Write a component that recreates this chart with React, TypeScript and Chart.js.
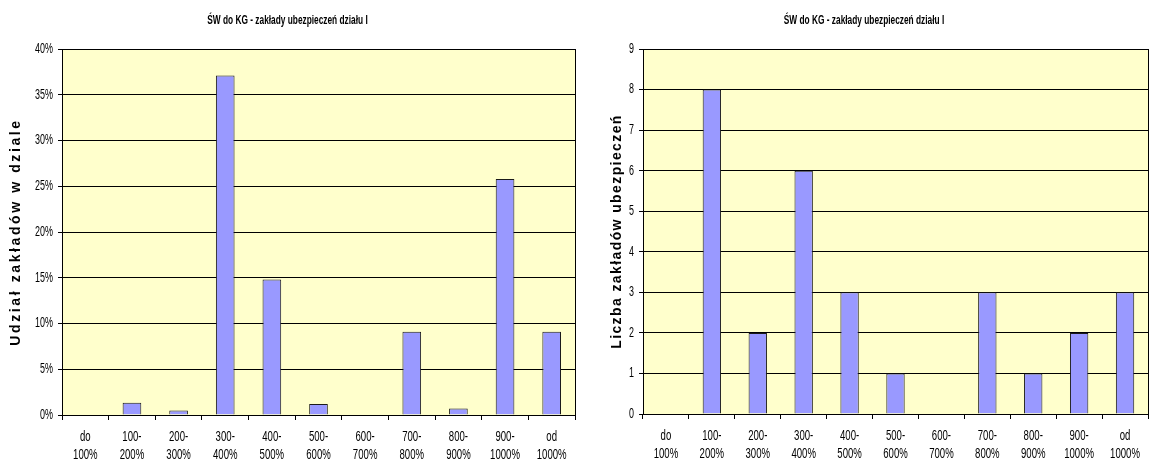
import React, { useEffect, useRef } from 'react';
import { Chart, registerables } from 'chart.js';

Chart.register(...registerables);

const categories: string[][] = [
  ['do', '100%'],
  ['100-', '200%'],
  ['200-', '300%'],
  ['300-', '400%'],
  ['400-', '500%'],
  ['500-', '600%'],
  ['600-', '700%'],
  ['700-', '800%'],
  ['800-', '900%'],
  ['900-', '1000%'],
  ['od', '1000%'],
];

const shareValues = [0, 1.35, 0.5, 37.1, 14.8, 1.2, 0, 9.1, 0.7, 25.8, 9.1];
const countValues = [0, 8, 2, 6, 3, 1, 0, 3, 1, 2, 3];

const shareTickMax = 40;
const shareTickStep = 5;
const countTickMax = 9;
const countTickStep = 1;

const chartTitle = 'ŚW do KG - zakłady ubezpieczeń działu I';
const shareAxisTitle = 'Udział zakładów w dziale';
const countAxisTitle = 'Liczba zakładów ubezpieczeń';

const SANS = "'Liberation Sans', Arial, sans-serif";
const SQUEEZE = 0.64;

type PanelProps = {
  width: number;
  height: number;
  plotLeft: number;
  plotRight: number;
  plotTop: number;
  plotBottom: number;
  values: number[];
  yMax: number;
  yStep: number;
  percent: boolean;
  axisTitle: string;
  axisTitleX: number;
  axisTitleSpacing: number;
};

function ChartPanel(p: PanelProps) {
  const ref = useRef<HTMLCanvasElement | null>(null);

  useEffect(() => {
    if (!ref.current) return;
    const ctx2d = ref.current.getContext('2d') as any;
    const origFillText = ctx2d.fillText.bind(ctx2d);
    ctx2d.fillText = (text: string, x: number, y: number, maxWidth?: number) => {
      ctx2d.save();
      ctx2d.translate(x, y);
      ctx2d.scale(SQUEEZE, 1);
      if (maxWidth === undefined) origFillText(text, 0, 0);
      else origFillText(text, 0, 0, maxWidth / SQUEEZE);
      ctx2d.restore();
    };

    const decor = {
      id: 'decor',
      beforeDraw(chart: any) {
        const { ctx, chartArea: a } = chart;
        ctx.save();
        ctx.fillStyle = '#FFFFCC';
        ctx.fillRect(a.left, a.top, a.right - a.left, a.bottom - a.top);
        ctx.restore();
      },
      beforeDatasetsDraw(chart: any) {
        const { ctx, chartArea: a } = chart;
        ctx.save();
        ctx.strokeStyle = '#000';
        ctx.lineWidth = 1;
        ctx.strokeRect(
          Math.round(a.left) + 0.5,
          Math.round(a.top) + 0.5,
          Math.round(a.right - a.left),
          Math.round(a.bottom - a.top)
        );
        ctx.restore();
      },
      afterDraw(chart: any) {
        const { ctx, chartArea: a } = chart;
        ctx.save();
        ctx.translate(p.axisTitleX, (a.top + a.bottom) / 2);
        ctx.rotate(-Math.PI / 2);
        ctx.font = `bold 14px ${SANS}`;
        ctx.letterSpacing = `${p.axisTitleSpacing}px`;
        ctx.fillStyle = '#000';
        ctx.textAlign = 'center';
        ctx.textBaseline = 'middle';
        origFillText(p.axisTitle, 0, 0);
        ctx.restore();
      },
    };

    const chart = new Chart(ref.current, {
      type: 'bar',
      data: {
        labels: categories,
        datasets: [
          {
            data: p.values,
            backgroundColor: '#9999FF',
            borderColor: '#1a1a1a',
            borderWidth: 1,
            barPercentage: 0.4,
            categoryPercentage: 1,
          },
        ],
      },
      options: {
        animation: false,
        responsive: false,
        maintainAspectRatio: false,
        layout: {
          padding: { left: 0, top: 0, right: p.width - p.plotRight, bottom: 0 },
        },
        plugins: {
          legend: { display: false },
          tooltip: { enabled: false },
          title: {
            display: true,
            text: chartTitle,
            color: '#000',
            font: { family: SANS, size: 13, weight: 'bold' },
            padding: { top: 13, bottom: p.plotTop - 13 - 15.6 },
          },
        },
        scales: {
          x: {
            offset: true,
            grid: {
              display: true,
              offset: true,
              drawOnChartArea: false,
              drawTicks: true,
              tickLength: 5,
              color: '#000',
            },
            border: { display: true, color: '#000' },
            ticks: {
              color: '#000',
              font: { family: SANS, size: 15, lineHeight: 1.2 },
              padding: 8,
              maxRotation: 0,
              autoSkip: false,
            },
            afterFit(scale: any) {
              scale.height = p.height - p.plotBottom;
              scale.paddingLeft = 0;
              scale.paddingRight = 0;
            },
          },
          y: {
            min: 0,
            max: p.yMax,
            grid: {
              color: '#000',
              drawTicks: true,
              tickLength: 4,
            },
            border: { display: true, color: '#000' },
            ticks: {
              stepSize: p.yStep,
              color: '#000',
              font: { family: SANS, size: 14 },
              padding: 5,
              callback: (v: any) => (p.percent ? `${v}%` : `${v}`),
            },
            afterFit(scale: any) {
              scale.width = p.plotLeft;
              scale.paddingTop = 0;
              scale.paddingBottom = 0;
            },
          },
        },
      },
      plugins: [decor],
    } as any);

    return () => {
      chart.destroy();
      ctx2d.fillText = origFillText;
    };
  }, []);

  return (
    <canvas
      ref={ref}
      width={p.width}
      height={p.height}
      style={{ display: 'block', width: p.width, height: p.height }}
    />
  );
}

export default function App() {
  return (
    <div
      style={{
        position: 'absolute',
        left: 0,
        top: 0,
        width: 1149,
        height: 465,
        background: '#fff',
        display: 'flex',
        flexDirection: 'row',
      }}
    >
      <ChartPanel
        width={580}
        height={465}
        plotLeft={62}
        plotRight={575}
        plotTop={49}
        plotBottom={415}
        values={shareValues}
        yMax={shareTickMax}
        yStep={shareTickStep}
        percent={true}
        axisTitle={shareAxisTitle}
        axisTitleX={16}
        axisTitleSpacing={2.6}
      />
      <ChartPanel
        width={569}
        height={465}
        plotLeft={63}
        plotRight={568}
        plotTop={49}
        plotBottom={414}
        values={countValues}
        yMax={countTickMax}
        yStep={countTickStep}
        percent={false}
        axisTitle={countAxisTitle}
        axisTitleX={37}
        axisTitleSpacing={1.4}
      />
    </div>
  );
}
